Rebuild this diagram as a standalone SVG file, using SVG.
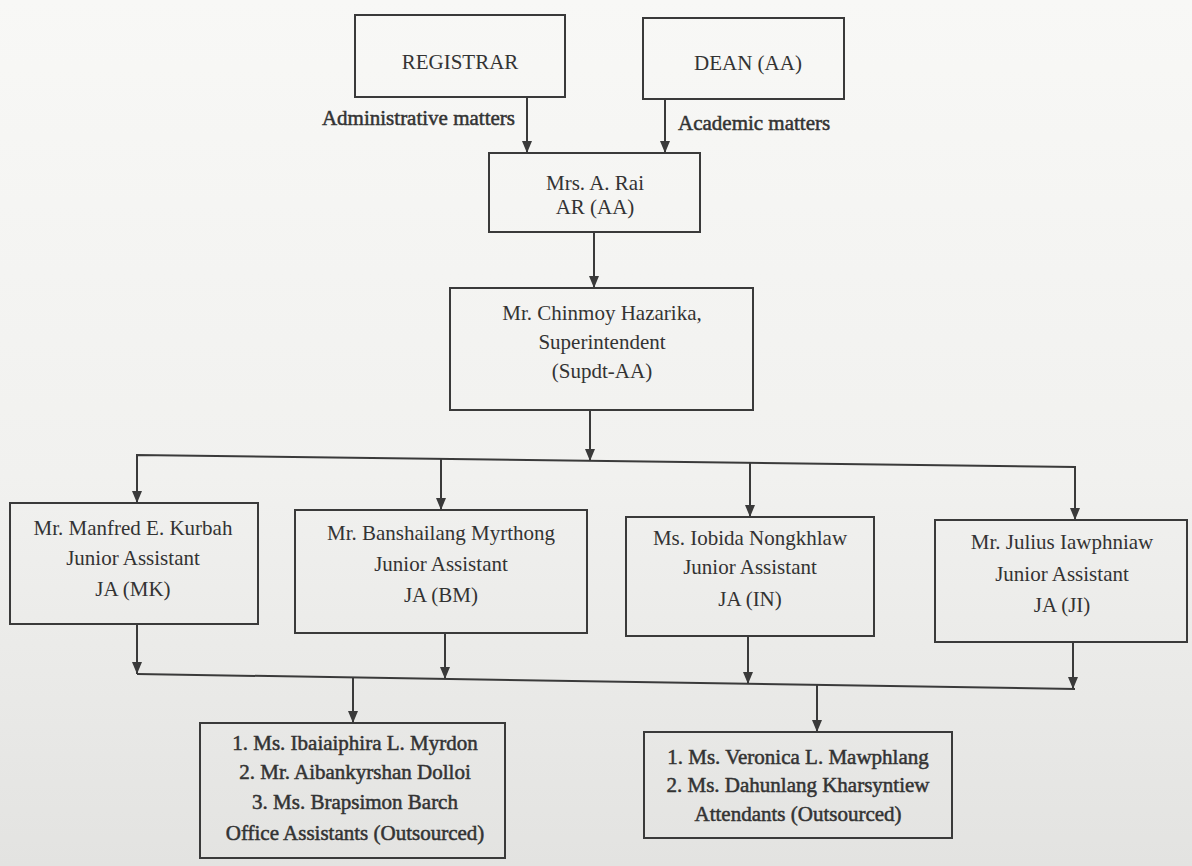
<svg xmlns="http://www.w3.org/2000/svg" width="1192" height="866" viewBox="0 0 1192 866">
  <defs>
    <linearGradient id="bg" x1="0" y1="0" x2="0" y2="1">
      <stop offset="0" stop-color="#f8f8f6"/>
      <stop offset="0.55" stop-color="#f1f1ef"/>
      <stop offset="1" stop-color="#e3e3e1"/>
    </linearGradient>
    <marker id="ah" viewBox="0 0 12 10" refX="12" refY="5" markerWidth="12" markerHeight="10" markerUnits="userSpaceOnUse" orient="auto">
      <path d="M0,0 L12,5 L0,10 z" fill="#3a3a3a"/>
    </marker>
    <style>
      .box { fill: none; stroke: #3a3a3a; stroke-width: 2; }
      .t { font-family: "Liberation Serif", "Times New Roman", serif; font-size: 21px; fill: #333; text-anchor: middle; }
      .b { stroke: #333; stroke-width: 0.5; }
      .lbl { font-family: "Liberation Serif", "Times New Roman", serif; font-size: 21px; fill: #333; stroke: #333; stroke-width: 0.5; }
      .c { fill: none; stroke: #3a3a3a; stroke-width: 2; }
      .a { fill: none; stroke: #3a3a3a; stroke-width: 2; marker-end: url(#ah); }
    </style>
  </defs>
  <rect x="0" y="0" width="1192" height="866" fill="url(#bg)"/>

  <g id="connectors">
    <line class="a" x1="527" y1="97" x2="527" y2="153"/>
    <line class="a" x1="665" y1="99" x2="665" y2="153"/>
    <line class="a" x1="594" y1="232" x2="594" y2="288"/>
    <line class="a" x1="590" y1="410" x2="590" y2="461"/>
    <polyline class="c" points="137,503 137,455 1075,467 1075,470"/>
    <line class="a" x1="137" y1="455" x2="137" y2="503"/>
    <line class="a" x1="441" y1="459" x2="441" y2="510"/>
    <line class="a" x1="750" y1="463" x2="750" y2="517"/>
    <line class="a" x1="1075" y1="467" x2="1075" y2="520"/>
    <line class="a" x1="137" y1="624" x2="137" y2="674"/>
    <line class="a" x1="445" y1="633" x2="445" y2="679"/>
    <line class="a" x1="748" y1="636" x2="748" y2="684"/>
    <line class="a" x1="1073" y1="642" x2="1073" y2="689"/>
    <line class="c" x1="137" y1="674" x2="1075" y2="689"/>
    <line class="a" x1="353" y1="677" x2="353" y2="723"/>
    <line class="a" x1="817" y1="685" x2="817" y2="732"/>
    <text class="lbl" x="515" y="125" text-anchor="end">Administrative matters</text>
    <text class="lbl" x="678" y="130" text-anchor="start">Academic matters</text>
  </g>

  <g id="registrar">
    <rect class="box" x="355" y="15" width="210" height="82"/>
    <text class="t" x="460" y="69">REGISTRAR</text>
  </g>

  <g id="dean">
    <rect class="box" x="643" y="18" width="201" height="81"/>
    <text class="t" x="748" y="70">DEAN (AA)</text>
  </g>

  <g id="ar">
    <rect class="box" x="489" y="153" width="211" height="79"/>
    <text class="t" x="595" y="190">Mrs. A. Rai</text>
    <text class="t" x="595" y="214">AR (AA)</text>
  </g>

  <g id="supdt">
    <rect class="box" x="450" y="288" width="303" height="122"/>
    <text class="t" x="602" y="320">Mr. Chinmoy Hazarika,</text>
    <text class="t" x="602" y="349">Superintendent</text>
    <text class="t" x="602" y="378">(Supdt-AA)</text>
  </g>

  <g id="ja-mk">
    <rect class="box" x="10" y="503" width="248" height="121"/>
    <text class="t" x="133" y="535">Mr. Manfred E. Kurbah</text>
    <text class="t" x="133" y="565">Junior Assistant</text>
    <text class="t" x="133" y="596">JA (MK)</text>
  </g>

  <g id="ja-bm">
    <rect class="box" x="295" y="510" width="292" height="123"/>
    <text class="t" x="441" y="540">Mr. Banshailang Myrthong</text>
    <text class="t" x="441" y="571">Junior Assistant</text>
    <text class="t" x="441" y="602">JA (BM)</text>
  </g>

  <g id="ja-in">
    <rect class="box" x="626" y="517" width="248" height="119"/>
    <text class="t" x="750" y="545">Ms. Iobida Nongkhlaw</text>
    <text class="t" x="750" y="574">Junior Assistant</text>
    <text class="t" x="750" y="606">JA (IN)</text>
  </g>

  <g id="ja-ji">
    <rect class="box" x="935" y="520" width="252" height="122"/>
    <text class="t" x="1062" y="549">Mr. Julius Iawphniaw</text>
    <text class="t" x="1062" y="581">Junior Assistant</text>
    <text class="t" x="1062" y="612">JA (JI)</text>
  </g>

  <g id="office-assistants">
    <rect class="box" x="200" y="723" width="305" height="135"/>
    <text class="t b" x="355" y="750">1. Ms. Ibaiaiphira L. Myrdon</text>
    <text class="t b" x="355" y="779">2. Mr. Aibankyrshan Dolloi</text>
    <text class="t b" x="355" y="809">3. Ms. Brapsimon Barch</text>
    <text class="t b" x="355" y="840">Office Assistants (Outsourced)</text>
  </g>

  <g id="attendants">
    <rect class="box" x="644" y="732" width="308" height="106"/>
    <text class="t b" x="798" y="764">1. Ms. Veronica L. Mawphlang</text>
    <text class="t b" x="798" y="792">2. Ms. Dahunlang Kharsyntiew</text>
    <text class="t b" x="798" y="821">Attendants (Outsourced)</text>
  </g>
</svg>
